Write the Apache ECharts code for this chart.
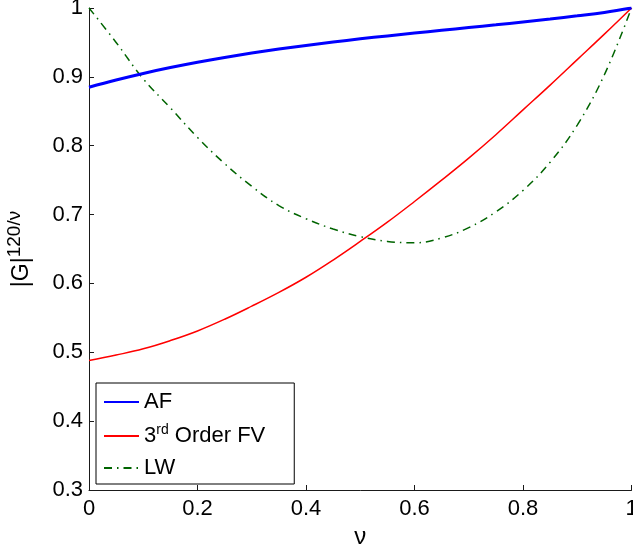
<!DOCTYPE html>
<html>
<head>
<meta charset="utf-8">
<title>|G|^(120/ν) versus ν</title>
<script src="https://cdn.jsdelivr.net/npm/echarts@6/dist/echarts.min.js"></script>
<style>
  html, body { margin: 0; padding: 0; background: #fff; }
  #chart { width: 633px; height: 548px; }
</style>
</head>
<body>
<div id="chart"></div>
<script>
// Courant number samples
var nu = [0, 0.05, 0.1, 0.15, 0.2, 0.25, 0.3, 0.35, 0.4, 0.45, 0.5,
          0.55, 0.6, 0.65, 0.7, 0.75, 0.8, 0.85, 0.9, 0.95, 1.0];

// |G|^(120/nu) for each scheme
var afValues = [0.885, 0.8955, 0.905, 0.9135, 0.9212, 0.9282, 0.9346, 0.9404, 0.9457, 0.9506, 0.9552,
                0.9595, 0.9636, 0.9676, 0.9716, 0.9756, 0.9797, 0.984, 0.9886, 0.9936, 1.0];
var fvValues = [0.488, 0.496, 0.505, 0.517, 0.531, 0.548, 0.567, 0.587, 0.609, 0.634, 0.661,
                0.689, 0.719, 0.750, 0.782, 0.816, 0.852, 0.888, 0.925, 0.962, 1.0];
var lwValues = [1.0, 0.950, 0.897, 0.855, 0.812, 0.774, 0.741, 0.713, 0.694, 0.679, 0.668,
                0.661, 0.659, 0.666, 0.681, 0.704, 0.735, 0.776, 0.830, 0.903, 1.0];

var seriesNames = ['AF', '3rd Order FV', 'LW'];
var xTicks = { min: 0, max: 1, interval: 0.2 };
var yTicks = { min: 0.3, max: 1, interval: 0.1 };

function pairs(vals) {
  return nu.map(function (x, i) { return [x, vals[i]]; });
}

var font = 'Liberation Sans, Arial, Helvetica, sans-serif';
var axisColor = '#1a1a1a';

var chart = echarts.init(document.getElementById('chart'), null, { renderer: 'canvas' });

chart.setOption({
  animation: false,
  backgroundColor: '#ffffff',
  grid: {
    left: 89, right: 1.5, top: 8, bottom: 58,
    containLabel: false,
    outerBoundsMode: 'none'
  },
  xAxis: {
    type: 'value',
    min: xTicks.min, max: xTicks.max, interval: xTicks.interval,
    name: 'ν',
    nameLocation: 'middle',
    nameGap: 34,
    nameTextStyle: { fontFamily: font, fontSize: 24, color: '#000' },
    axisLine: { show: true, onZero: false, lineStyle: { color: axisColor, width: 1 } },
    axisTick: { show: true, inside: true, length: 5, lineStyle: { color: axisColor } },
    axisLabel: { fontFamily: font, fontSize: 22, color: '#000', margin: 8 },
    splitLine: { show: false }
  },
  yAxis: {
    type: 'value',
    min: yTicks.min, max: yTicks.max, interval: yTicks.interval,
    name: '|G|{sup|120/ν}',
    nameLocation: 'middle',
    nameRotate: 90,
    nameGap: 51,
    nameTextStyle: {
      fontFamily: font, fontSize: 23, color: '#000',
      rich: {
        sup: { fontFamily: font, fontSize: 19, color: '#000', verticalAlign: 'bottom', padding: [0, 0, 14, 0] }
      }
    },
    axisLine: { show: true, onZero: false, lineStyle: { color: axisColor, width: 1 } },
    axisTick: { show: true, inside: true, length: 5, lineStyle: { color: axisColor } },
    axisLabel: { fontFamily: font, fontSize: 22, color: '#000', margin: 6 },
    splitLine: { show: false }
  },
  legend: {
    orient: 'vertical',
    left: 96,
    top: 383,
    padding: [8, 29, 5, 7],
    itemGap: 10,
    itemWidth: 35,
    itemHeight: 14,
    backgroundColor: '#fff',
    borderColor: '#000',
    borderWidth: 1,
    borderRadius: 0,
    data: seriesNames,
    // legend keys show the bare line only, no marker
    itemStyle: { color: 'rgba(0,0,0,0)', borderColor: 'rgba(0,0,0,0)', borderWidth: 0, opacity: 0 },
    formatter: function (name) {
      if (name === '3rd Order FV') return '3{sup|rd} Order FV';
      return name;
    },
    textStyle: {
      fontFamily: font, fontSize: 22, color: '#000',
      rich: {
        sup: { fontFamily: font, fontSize: 14, color: '#000', verticalAlign: 'bottom', padding: [0, 0, 12, 0] }
      }
    }
  },
  series: [
    {
      name: seriesNames[0], type: 'line', data: pairs(afValues),
      smooth: 0.4, symbol: 'none',
      lineStyle: { color: '#0000ff', width: 3 },
      itemStyle: { color: '#0000ff' },
      z: 3
    },
    {
      name: seriesNames[1], type: 'line', data: pairs(fvValues),
      smooth: 0.4, symbol: 'none',
      lineStyle: { color: '#ff0000', width: 1.5 },
      itemStyle: { color: '#ff0000' },
      z: 2
    },
    {
      name: seriesNames[2], type: 'line', data: pairs(lwValues),
      smooth: 0.4, symbol: 'none',
      lineStyle: { color: '#006400', width: 1.5, type: [8, 5, 1.5, 5] },
      itemStyle: { color: '#006400' },
      z: 1
    }
  ]
});
</script>
</body>
</html>
